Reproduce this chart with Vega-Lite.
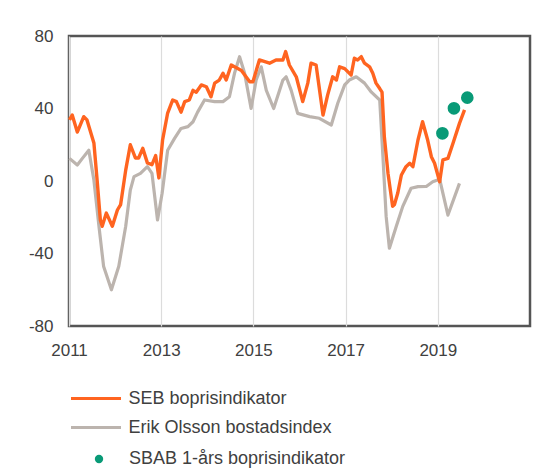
{
  "$schema": "https://vega.github.io/schema/vega-lite/v6.json",
  "width": 461,
  "height": 290,
  "autosize": {"type": "none"},
  "padding": {"left": 69, "top": 36, "right": 25, "bottom": 142},
  "background": "white",
  "config": {
    "view": {"stroke": "#555555", "strokeWidth": 2.5},
    "font": "Liberation Sans",
    "axis": {"labelFont": "Liberation Sans", "labelFontSize": 17, "labelColor": "#404040", "gridColor": "#dcdcdc", "gridWidth": 1.2, "ticks": false, "domain": false, "title": null, "labelExpr": "'' + datum.value"},
    "legend": {"labelFont": "Liberation Sans", "labelFontSize": 18, "labelColor": "#404040", "title": null, "labelLimit": 400}
  },
  "datasets": {
    "lines": [
      {"series": "Erik Olsson bostadsindex", "t": 2011.01, "v": 12.5},
      {"series": "Erik Olsson bostadsindex", "t": 2011.18, "v": 8.8},
      {"series": "Erik Olsson bostadsindex", "t": 2011.29, "v": 12.5},
      {"series": "Erik Olsson bostadsindex", "t": 2011.43, "v": 17},
      {"series": "Erik Olsson bostadsindex", "t": 2011.54, "v": 0.5},
      {"series": "Erik Olsson bostadsindex", "t": 2011.65, "v": -25},
      {"series": "Erik Olsson bostadsindex", "t": 2011.75, "v": -47},
      {"series": "Erik Olsson bostadsindex", "t": 2011.92, "v": -60},
      {"series": "Erik Olsson bostadsindex", "t": 2012.08, "v": -47},
      {"series": "Erik Olsson bostadsindex", "t": 2012.23, "v": -25},
      {"series": "Erik Olsson bostadsindex", "t": 2012.33, "v": -5},
      {"series": "Erik Olsson bostadsindex", "t": 2012.41, "v": 2.4},
      {"series": "Erik Olsson bostadsindex", "t": 2012.55, "v": 4.2},
      {"series": "Erik Olsson bostadsindex", "t": 2012.70, "v": 7.9},
      {"series": "Erik Olsson bostadsindex", "t": 2012.80, "v": 4.2},
      {"series": "Erik Olsson bostadsindex", "t": 2012.92, "v": -21.5},
      {"series": "Erik Olsson bostadsindex", "t": 2013.02, "v": -6.8},
      {"series": "Erik Olsson bostadsindex", "t": 2013.14, "v": 17},
      {"series": "Erik Olsson bostadsindex", "t": 2013.29, "v": 23.5},
      {"series": "Erik Olsson bostadsindex", "t": 2013.43, "v": 29},
      {"series": "Erik Olsson bostadsindex", "t": 2013.58, "v": 30},
      {"series": "Erik Olsson bostadsindex", "t": 2013.69, "v": 32.7},
      {"series": "Erik Olsson bostadsindex", "t": 2013.79, "v": 38},
      {"series": "Erik Olsson bostadsindex", "t": 2013.94, "v": 44.7},
      {"series": "Erik Olsson bostadsindex", "t": 2014.16, "v": 43.8},
      {"series": "Erik Olsson bostadsindex", "t": 2014.34, "v": 43.8},
      {"series": "Erik Olsson bostadsindex", "t": 2014.48, "v": 46.5},
      {"series": "Erik Olsson bostadsindex", "t": 2014.59, "v": 59.4},
      {"series": "Erik Olsson bostadsindex", "t": 2014.70, "v": 68.6},
      {"series": "Erik Olsson bostadsindex", "t": 2014.81, "v": 59.4},
      {"series": "Erik Olsson bostadsindex", "t": 2014.95, "v": 40},
      {"series": "Erik Olsson bostadsindex", "t": 2015.06, "v": 55.7},
      {"series": "Erik Olsson bostadsindex", "t": 2015.17, "v": 63},
      {"series": "Erik Olsson bostadsindex", "t": 2015.28, "v": 50},
      {"series": "Erik Olsson bostadsindex", "t": 2015.44, "v": 40},
      {"series": "Erik Olsson bostadsindex", "t": 2015.64, "v": 55.7},
      {"series": "Erik Olsson bostadsindex", "t": 2015.71, "v": 57.5},
      {"series": "Erik Olsson bostadsindex", "t": 2015.82, "v": 50},
      {"series": "Erik Olsson bostadsindex", "t": 2015.96, "v": 37.3},
      {"series": "Erik Olsson bostadsindex", "t": 2016.22, "v": 35.5},
      {"series": "Erik Olsson bostadsindex", "t": 2016.43, "v": 34.6},
      {"series": "Erik Olsson bostadsindex", "t": 2016.69, "v": 30.9},
      {"series": "Erik Olsson bostadsindex", "t": 2016.83, "v": 42.9},
      {"series": "Erik Olsson bostadsindex", "t": 2016.98, "v": 53},
      {"series": "Erik Olsson bostadsindex", "t": 2017.08, "v": 55.7},
      {"series": "Erik Olsson bostadsindex", "t": 2017.23, "v": 57.5},
      {"series": "Erik Olsson bostadsindex", "t": 2017.41, "v": 54},
      {"series": "Erik Olsson bostadsindex", "t": 2017.56, "v": 49},
      {"series": "Erik Olsson bostadsindex", "t": 2017.74, "v": 44.7},
      {"series": "Erik Olsson bostadsindex", "t": 2017.81, "v": 13.4},
      {"series": "Erik Olsson bostadsindex", "t": 2017.88, "v": -19.7},
      {"series": "Erik Olsson bostadsindex", "t": 2017.95, "v": -37.1},
      {"series": "Erik Olsson bostadsindex", "t": 2018.10, "v": -25},
      {"series": "Erik Olsson bostadsindex", "t": 2018.24, "v": -14},
      {"series": "Erik Olsson bostadsindex", "t": 2018.42, "v": -4},
      {"series": "Erik Olsson bostadsindex", "t": 2018.57, "v": -3.1},
      {"series": "Erik Olsson bostadsindex", "t": 2018.75, "v": -3},
      {"series": "Erik Olsson bostadsindex", "t": 2018.89, "v": -0.4},
      {"series": "Erik Olsson bostadsindex", "t": 2019.04, "v": 1},
      {"series": "Erik Olsson bostadsindex", "t": 2019.22, "v": -18.8},
      {"series": "Erik Olsson bostadsindex", "t": 2019.47, "v": -1.3},
      {"series": "SEB boprisindikator", "t": 2011.01, "v": 33.7},
      {"series": "SEB boprisindikator", "t": 2011.07, "v": 36.4},
      {"series": "SEB boprisindikator", "t": 2011.18, "v": 27},
      {"series": "SEB boprisindikator", "t": 2011.32, "v": 35.5},
      {"series": "SEB boprisindikator", "t": 2011.39, "v": 33.7},
      {"series": "SEB boprisindikator", "t": 2011.54, "v": 21},
      {"series": "SEB boprisindikator", "t": 2011.61, "v": 0.5},
      {"series": "SEB boprisindikator", "t": 2011.68, "v": -21.5},
      {"series": "SEB boprisindikator", "t": 2011.72, "v": -25},
      {"series": "SEB boprisindikator", "t": 2011.81, "v": -17.7},
      {"series": "SEB boprisindikator", "t": 2011.94, "v": -25},
      {"series": "SEB boprisindikator", "t": 2012.05, "v": -16},
      {"series": "SEB boprisindikator", "t": 2012.12, "v": -13},
      {"series": "SEB boprisindikator", "t": 2012.23, "v": 6},
      {"series": "SEB boprisindikator", "t": 2012.33, "v": 20},
      {"series": "SEB boprisindikator", "t": 2012.44, "v": 12.7},
      {"series": "SEB boprisindikator", "t": 2012.51, "v": 12.7},
      {"series": "SEB boprisindikator", "t": 2012.60, "v": 18},
      {"series": "SEB boprisindikator", "t": 2012.70, "v": 10},
      {"series": "SEB boprisindikator", "t": 2012.80, "v": 9},
      {"series": "SEB boprisindikator", "t": 2012.88, "v": 14},
      {"series": "SEB boprisindikator", "t": 2012.95, "v": 1.7},
      {"series": "SEB boprisindikator", "t": 2013.03, "v": 22.6},
      {"series": "SEB boprisindikator", "t": 2013.14, "v": 37.5},
      {"series": "SEB boprisindikator", "t": 2013.25, "v": 44.7},
      {"series": "SEB boprisindikator", "t": 2013.33, "v": 43.8},
      {"series": "SEB boprisindikator", "t": 2013.43, "v": 38},
      {"series": "SEB boprisindikator", "t": 2013.51, "v": 43.8},
      {"series": "SEB boprisindikator", "t": 2013.61, "v": 44.7},
      {"series": "SEB boprisindikator", "t": 2013.69, "v": 50},
      {"series": "SEB boprisindikator", "t": 2013.76, "v": 49},
      {"series": "SEB boprisindikator", "t": 2013.87, "v": 53},
      {"series": "SEB boprisindikator", "t": 2013.98, "v": 52},
      {"series": "SEB boprisindikator", "t": 2014.08, "v": 46.5},
      {"series": "SEB boprisindikator", "t": 2014.16, "v": 54},
      {"series": "SEB boprisindikator", "t": 2014.26, "v": 55.7},
      {"series": "SEB boprisindikator", "t": 2014.34, "v": 59.4},
      {"series": "SEB boprisindikator", "t": 2014.41, "v": 55.7},
      {"series": "SEB boprisindikator", "t": 2014.52, "v": 64},
      {"series": "SEB boprisindikator", "t": 2014.59, "v": 63},
      {"series": "SEB boprisindikator", "t": 2014.74, "v": 61},
      {"series": "SEB boprisindikator", "t": 2014.92, "v": 54.8},
      {"series": "SEB boprisindikator", "t": 2014.99, "v": 54.8},
      {"series": "SEB boprisindikator", "t": 2015.13, "v": 66.8},
      {"series": "SEB boprisindikator", "t": 2015.35, "v": 65},
      {"series": "SEB boprisindikator", "t": 2015.49, "v": 66.8},
      {"series": "SEB boprisindikator", "t": 2015.64, "v": 66.8},
      {"series": "SEB boprisindikator", "t": 2015.70, "v": 71.4},
      {"series": "SEB boprisindikator", "t": 2015.78, "v": 64},
      {"series": "SEB boprisindikator", "t": 2015.93, "v": 57.5},
      {"series": "SEB boprisindikator", "t": 2016.07, "v": 43.8},
      {"series": "SEB boprisindikator", "t": 2016.18, "v": 54},
      {"series": "SEB boprisindikator", "t": 2016.25, "v": 65},
      {"series": "SEB boprisindikator", "t": 2016.36, "v": 64},
      {"series": "SEB boprisindikator", "t": 2016.51, "v": 36.4},
      {"series": "SEB boprisindikator", "t": 2016.61, "v": 47.4},
      {"series": "SEB boprisindikator", "t": 2016.72, "v": 57.5},
      {"series": "SEB boprisindikator", "t": 2016.80, "v": 55.7},
      {"series": "SEB boprisindikator", "t": 2016.87, "v": 63},
      {"series": "SEB boprisindikator", "t": 2016.98, "v": 62},
      {"series": "SEB boprisindikator", "t": 2017.12, "v": 58.5},
      {"series": "SEB boprisindikator", "t": 2017.19, "v": 67.7},
      {"series": "SEB boprisindikator", "t": 2017.26, "v": 66.8},
      {"series": "SEB boprisindikator", "t": 2017.34, "v": 68.6},
      {"series": "SEB boprisindikator", "t": 2017.41, "v": 65},
      {"series": "SEB boprisindikator", "t": 2017.52, "v": 63},
      {"series": "SEB boprisindikator", "t": 2017.59, "v": 59.4},
      {"series": "SEB boprisindikator", "t": 2017.66, "v": 54},
      {"series": "SEB boprisindikator", "t": 2017.74, "v": 51},
      {"series": "SEB boprisindikator", "t": 2017.79, "v": 49},
      {"series": "SEB boprisindikator", "t": 2017.84, "v": 24.5},
      {"series": "SEB boprisindikator", "t": 2017.92, "v": 4.2},
      {"series": "SEB boprisindikator", "t": 2018.02, "v": -14},
      {"series": "SEB boprisindikator", "t": 2018.06, "v": -13},
      {"series": "SEB boprisindikator", "t": 2018.13, "v": -6.8},
      {"series": "SEB boprisindikator", "t": 2018.21, "v": 3.3},
      {"series": "SEB boprisindikator", "t": 2018.31, "v": 7.9},
      {"series": "SEB boprisindikator", "t": 2018.39, "v": 9.8},
      {"series": "SEB boprisindikator", "t": 2018.46, "v": 7.9},
      {"series": "SEB boprisindikator", "t": 2018.57, "v": 22.6},
      {"series": "SEB boprisindikator", "t": 2018.67, "v": 32.7},
      {"series": "SEB boprisindikator", "t": 2018.78, "v": 22.6},
      {"series": "SEB boprisindikator", "t": 2018.86, "v": 13.4},
      {"series": "SEB boprisindikator", "t": 2018.93, "v": 9.8},
      {"series": "SEB boprisindikator", "t": 2019.04, "v": -0.4},
      {"series": "SEB boprisindikator", "t": 2019.11, "v": 11.6},
      {"series": "SEB boprisindikator", "t": 2019.22, "v": 12.5},
      {"series": "SEB boprisindikator", "t": 2019.33, "v": 20.8},
      {"series": "SEB boprisindikator", "t": 2019.47, "v": 31.8},
      {"series": "SEB boprisindikator", "t": 2019.58, "v": 39.2}
    ],
    "points": [
      {"series": "SBAB 1-års boprisindikator", "t": 2019.10, "v": 26.3},
      {"series": "SBAB 1-års boprisindikator", "t": 2019.35, "v": 40.1},
      {"series": "SBAB 1-års boprisindikator", "t": 2019.64, "v": 46}
    ]
  },
  "layer": [
    {
      "mark": {"type": "rule", "color": "#1a1a1a", "strokeWidth": 1.5},
      "encoding": {"y": {"datum": 0, "type": "quantitative", "scale": {"domain": [-80, 80], "nice": false}}}
    },
    {
      "data": {"name": "lines"},
      "transform": [{"filter": "datum.series === 'Erik Olsson bostadsindex'"}],
      "mark": {"type": "line", "strokeWidth": 3.2, "strokeJoin": "round"},
      "encoding": {
        "x": {"field": "t", "type": "quantitative", "scale": {"domain": [2011, 2021], "nice": false, "zero": false},
              "axis": {"values": [2011, 2013, 2015, 2017, 2019], "labelPadding": 16, "labelFlush": false}},
        "y": {"field": "v", "type": "quantitative", "scale": {"domain": [-80, 80], "nice": false},
              "axis": {"values": [-80, -40, 0, 40, 80], "labelPadding": 16}},
        "stroke": {"field": "series", "type": "nominal",
                   "scale": {"domain": ["SEB boprisindikator", "Erik Olsson bostadsindex"], "range": ["#ff6420", "#bcb4ae"]},
                   "legend": {"orient": "none", "legendX": 15.5, "legendY": 351, "symbolType": "M-2.5,0H2.5", "symbolSize": 400, "symbolStrokeWidth": 3, "symbolFillColor": "transparent", "rowPadding": 8, "labelOffset": 21}}
      }
    },
    {
      "data": {"name": "lines"},
      "transform": [{"filter": "datum.series === 'SEB boprisindikator'"}],
      "mark": {"type": "line", "strokeWidth": 3.4, "strokeJoin": "round"},
      "encoding": {
        "x": {"field": "t", "type": "quantitative"},
        "y": {"field": "v", "type": "quantitative"},
        "stroke": {"field": "series", "type": "nominal"}
      }
    },
    {
      "data": {"name": "points"},
      "mark": {"type": "point", "filled": true, "opacity": 1, "size": 160},
      "encoding": {
        "x": {"field": "t", "type": "quantitative"},
        "y": {"field": "v", "type": "quantitative"},
        "fill": {"field": "series", "type": "nominal",
                 "scale": {"range": ["#099a77"]},
                 "legend": {"orient": "none", "legendX": 21, "legendY": 414, "symbolType": "circle", "symbolSize": 70, "labelOffset": 21}}
      }
    }
  ]
}
